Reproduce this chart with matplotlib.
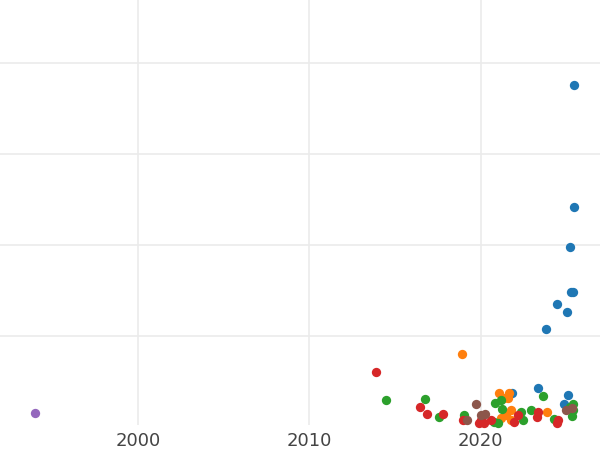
import matplotlib.pyplot as plt

blue_x = [2025.41, 2025.41, 2025.18, 2025.24, 2025.35, 2024.42, 2025.0, 2023.78, 2023.31, 2025.06, 2021.8, 2024.83]
blue_y = [3.76, 2.41, 1.98, 1.48, 1.48, 1.35, 1.26, 1.07, 0.43, 0.35, 0.37, 0.25]
orange_x = [2018.88, 2021.04, 2021.62, 2021.33, 2021.56, 2021.74, 2023.84, 2021.45, 2021.15, 2021.74]
orange_y = [0.80, 0.37, 0.37, 0.32, 0.32, 0.19, 0.16, 0.13, 0.10, 0.08]
green_x = [2014.45, 2016.72, 2017.54, 2018.99, 2020.8, 2021.15, 2021.21, 2022.32, 2022.9, 2023.6,
           2022.44, 2020.75, 2020.98, 2025.35, 2025.35, 2025.29, 2024.24, 2025.18]
green_y = [0.29, 0.31, 0.11, 0.13, 0.26, 0.30, 0.20, 0.16, 0.18, 0.34,
           0.07, 0.05, 0.04, 0.25, 0.19, 0.12, 0.09, 0.22]
red_x = [2013.87, 2016.43, 2016.84, 2017.77, 2018.94, 2019.99, 2020.16, 2020.57, 2021.91, 2022.15,
         2023.31, 2023.25, 2024.48, 2024.42, 2019.87]
red_y = [0.60, 0.22, 0.14, 0.14, 0.07, 0.07, 0.04, 0.08, 0.05, 0.13,
         0.16, 0.11, 0.07, 0.04, 0.04]
brown_x = [2019.7, 2020.22, 2019.99, 2019.17, 2025.29, 2024.94]
brown_y = [0.25, 0.14, 0.13, 0.07, 0.21, 0.19]
purple_x = [1993.98]
purple_y = [0.15]

fig = plt.figure(figsize=(6, 4.5), dpi=100)
ax = fig.add_axes([0, 25 / 450, 1, 425 / 450])

for xs, ys, c in [(blue_x, blue_y, '#1f77b4'), (orange_x, orange_y, '#ff7f0e'),
                  (green_x, green_y, '#2ca02c'), (red_x, red_y, '#d62728'),
                  (brown_x, brown_y, '#8c564b'), (purple_x, purple_y, '#9467bd')]:
    ax.scatter(xs, ys, s=45, color=c, linewidths=0, zorder=3, clip_on=False)

ax.set_xlim(1991.95, 2026.95)
ax.set_ylim(0.02, 4.69)
ax.set_xticks([2000, 2010, 2020])
ax.set_yticks([1, 2, 3, 4])
ax.set_yticklabels([])
ax.tick_params(length=0, labelsize=13, labelcolor='#444444', pad=5)
ax.grid(color='#ebebeb', linewidth=1.2)
ax.set_axisbelow(True)
for s in ax.spines.values():
    s.set_visible(False)

fig.savefig('out.png')
